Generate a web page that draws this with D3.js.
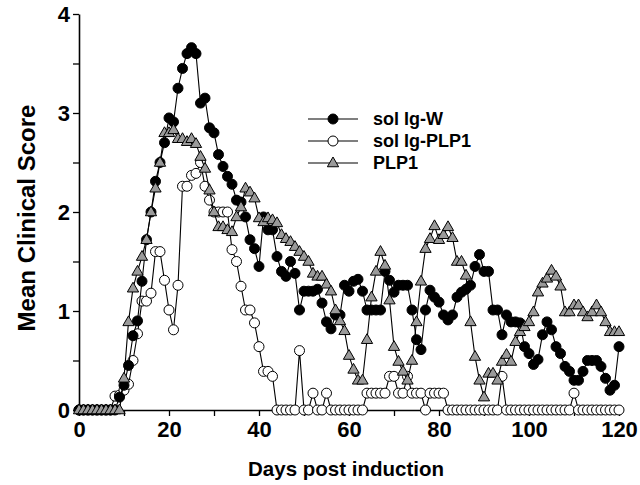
<!DOCTYPE html>
<html>
<head>
<meta charset="utf-8">
<script src="https://cdn.jsdelivr.net/npm/d3@7/dist/d3.min.js"></script>
<style>
  html, body { margin: 0; padding: 0; background: #fff; }
  svg { display: block; }
  text { font-family: "Liberation Sans", Arial, Helvetica, sans-serif; font-weight: bold; fill: #000; }
</style>
</head>
<body>
<svg id="chart" width="640" height="485"></svg>
<script>
// ---- data (days 0..120, one value per day) ----
const days = d3.range(0, 121);

const solIgW = [
  0,0,0,0,0,0,0,0,0,0.13,
  0.25,0.45,0.75,0.9,1.3,1.72,2.0,2.31,2.5,2.7,
  2.95,2.91,3.25,3.45,3.6,3.66,3.6,3.1,3.15,2.85,
  2.8,2.58,2.46,2.36,2.28,2.12,2.1,1.95,1.72,1.63,
  1.45,1.95,1.82,1.82,1.55,1.4,1.35,1.5,1.38,1.01,
  1.2,1.2,1.2,1.22,1.08,0.89,0.82,0.96,0.96,1.26,
  1.2,1.3,1.32,1.2,1.01,1.01,1.01,1.01,1.4,1.31,
  1.19,1.26,1.26,1.26,1.01,0.71,0.61,1.01,1.21,1.14,
  1.09,0.96,0.91,0.96,1.14,1.19,1.22,1.26,1.45,1.57,
  1.4,1.4,1.01,1.01,0.76,0.96,0.89,0.89,0.88,0.64,
  0.57,0.46,0.51,0.76,0.89,0.81,0.64,0.57,0.44,0.39,
  0.3,0.3,0.39,0.5,0.5,0.5,0.44,0.32,0.2,0.25,
  0.64
];

const solIgPLP1 = [
  0,0,0,0,0,0,0,0,0.14,0.15,
  0.2,0.26,0.5,0.77,1.1,1.1,1.18,1.6,1.6,1.31,
  1.01,0.81,1.26,2.26,2.26,2.37,2.39,2.5,2.26,2.12,
  2.0,2.0,2.0,2.0,1.62,1.5,1.25,1.01,1.01,0.88,
  0.64,0.39,0.39,0.34,0,0,0,0,0,0.6,
  0,0,0.17,0,0,0.17,0,0,0,0,
  0,0,0,0,0.17,0.17,0.17,0.17,0.17,0.34,
  0.34,0.17,0.17,0.34,0.17,0.17,0.17,0,0.17,0.17,
  0.17,0.17,0,0,0,0,0,0,0,0,
  0,0,0,0,0.34,0,0,0,0,0,
  0,0,0,0,0,0,0,0,0,0,
  0.17,0,0,0,0,0,0,0,0,0,
  0
];

const plp1 = [
  0,0,0,0,0,0,0,0,0,0,
  0.32,0.89,1.23,1.4,1.55,1.72,2.0,2.24,2.5,2.8,
  2.8,2.83,2.74,2.74,2.71,2.74,2.69,2.56,2.44,2.22,
  2.0,1.85,1.85,1.82,1.8,1.95,2.05,2.24,2.2,2.14,
  1.94,1.9,1.94,1.92,1.89,1.77,1.73,1.7,1.65,1.6,
  1.55,1.5,1.38,1.35,1.35,1.27,1.2,1.01,0.9,0.8,
  0.55,0.41,0.3,0.3,0.71,1.14,1.4,1.6,1.46,1.11,
  0.64,0.49,0.39,0.3,0.5,0.89,1.3,1.63,1.73,1.86,
  1.72,1.77,1.85,1.74,1.5,1.5,1.36,0.89,0.54,0.3,
  0.13,0.37,0.37,0.3,0.49,0.56,0.49,0.69,0.79,0.84,
  0.89,0.99,1.19,1.28,1.33,1.41,1.35,1.25,0.99,0.99,
  1.06,1.06,0.99,0.94,0.99,1.06,0.99,0.89,0.79,0.79,
  0.79
];

const seriesNames = ["sol Ig-W", "sol Ig-PLP1", "PLP1"];
const xTicks = d3.range(0, 121, 10);
const xLabels = [0, 20, 40, 60, 80, 100, 120];
const yTicks = d3.range(0, 4.01, 0.5);
const yLabels = [0, 1, 2, 3, 4];

// ---- layout ----
const svg = d3.select("#chart");
const mLeft = 79, mRight = 619, mTop = 14, mBottom = 410;

const x = d3.scaleLinear().domain([0, 120]).range([mLeft, mRight]);
const y = d3.scaleLinear().domain([0, 4]).range([mBottom, mTop]);

// axes
const xAxis = d3.axisBottom(x)
  .tickValues(xTicks)
  .tickSize(6)
  .tickSizeOuter(0)
  .tickPadding(5)
  .tickFormat(d => xLabels.includes(d) ? d : "");
const gx = svg.append("g").attr("transform", `translate(0,${mBottom})`).call(xAxis);

const yAxis = d3.axisLeft(y)
  .tickValues(yTicks)
  .tickSize(6)
  .tickSizeOuter(0)
  .tickPadding(3)
  .tickFormat(d => yLabels.includes(d) ? d : "");
const gy = svg.append("g").attr("transform", `translate(${mLeft},0)`).call(yAxis);

[gx, gy].forEach(g => {
  g.select(".domain").attr("stroke", "#000").attr("stroke-width", 1.6);
  g.selectAll(".tick line").attr("stroke", "#000").attr("stroke-width", 1.3);
  g.selectAll(".tick text")
    .style("font-family", '"Liberation Sans", Arial, sans-serif')
    .style("font-weight", "bold")
    .style("font-size", "22px")
    .attr("fill", "#000");
});

// axis titles
svg.append("text")
  .attr("x", (mLeft + mRight) / 2 - 3)
  .attr("y", 476)
  .attr("text-anchor", "middle")
  .style("font-size", "20.5px")
  .text("Days post induction");

svg.append("text")
  .attr("transform", `translate(35,${(mTop + mBottom) / 2 + 6}) rotate(-90)`)
  .attr("text-anchor", "middle")
  .style("font-size", "24px")
  .text("Mean Clinical Score");

// ---- series ----
const line = d3.line().x(d => x(d[0])).y(d => y(d[1]));
const tri = d3.symbol().type(d3.symbolTriangle).size(55);
const R = 5;

function drawSeries(values, kind) {
  const pts = days.map((d, i) => [d, values[i]]);
  const g = svg.append("g");
  g.append("path")
    .datum(pts)
    .attr("fill", "none")
    .attr("stroke", "#000")
    .attr("stroke-width", 1.1)
    .attr("d", line);
  if (kind === "tri") {
    g.selectAll("path.m").data(pts).join("path")
      .attr("class", "m")
      .attr("d", tri)
      .attr("transform", d => `translate(${x(d[0])},${y(d[1]) + 0.5})`)
      .attr("fill", "#9a9a9a")
      .attr("stroke", "#000")
      .attr("stroke-width", 1);
  } else {
    g.selectAll("circle").data(pts).join("circle")
      .attr("cx", d => x(d[0]))
      .attr("cy", d => y(d[1]))
      .attr("r", R)
      .attr("fill", kind === "filled" ? "#000" : "#fff")
      .attr("stroke", "#000")
      .attr("stroke-width", 1);
  }
}

drawSeries(solIgPLP1, "open");
drawSeries(solIgW, "filled");
drawSeries(plp1, "tri");

// ---- legend ----
const legendRows = [
  { name: seriesNames[0], kind: "filled", cy: 119 },
  { name: seriesNames[1], kind: "open", cy: 141 },
  { name: seriesNames[2], kind: "tri", cy: 163 }
];
const lg = svg.append("g");
legendRows.forEach(r => {
  lg.append("line")
    .attr("x1", 308).attr("x2", 358)
    .attr("y1", r.cy).attr("y2", r.cy)
    .attr("stroke", "#000").attr("stroke-width", 1.1);
  if (r.kind === "tri") {
    lg.append("path").attr("d", tri)
      .attr("transform", `translate(333,${r.cy + 0.5})`)
      .attr("fill", "#9a9a9a").attr("stroke", "#000").attr("stroke-width", 1);
  } else {
    lg.append("circle").attr("cx", 333).attr("cy", r.cy).attr("r", R)
      .attr("fill", r.kind === "filled" ? "#000" : "#fff")
      .attr("stroke", "#000").attr("stroke-width", 1);
  }
  lg.append("text")
    .attr("x", 373).attr("y", r.cy + 6)
    .style("font-size", "18px")
    .text(r.name);
});
</script>
</body>
</html>
